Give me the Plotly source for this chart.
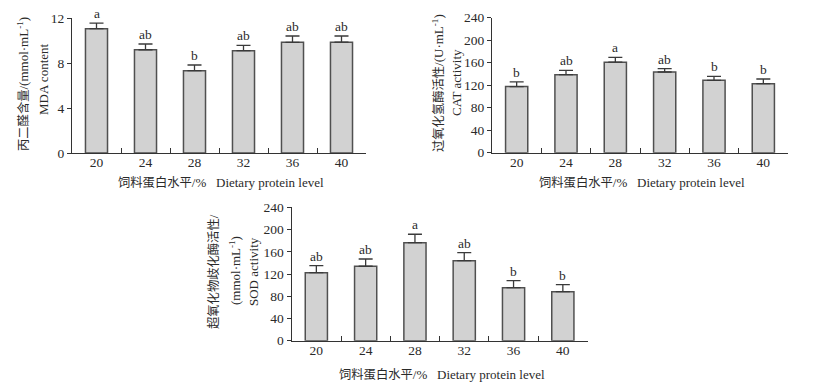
import plotly.graph_objects as go

levels = ["20", "24", "28", "32", "36", "40"]

mda_mean = [11.05, 9.18, 7.32, 9.10, 9.84, 9.85]
mda_err = [0.50, 0.51, 0.50, 0.47, 0.56, 0.55]
mda_letters = ["a", "ab", "b", "ab", "ab", "ab"]

cat_mean = [117.5, 138.7, 161.0, 143.5, 128.7, 122.7]
cat_err = [8.5, 7.8, 8.5, 6.0, 7.0, 8.3]
cat_letters = ["b", "ab", "a", "ab", "b", "b"]

sod_mean = [122.4, 133.9, 176.4, 144.0, 95.4, 88.2]
sod_err = [12.6, 13.1, 15.1, 14.4, 12.6, 12.6]
sod_letters = ["ab", "ab", "a", "ab", "b", "b"]

W, H = 817, 383
SERIF = "Liberation Serif, Times New Roman, Noto Sans CJK SC, serif"
TXT = "#2a2a2a"
AX = "#333333"
FS = 13.5
FT = 13


def cjk(s):
    return '<span style="font-family:Noto Sans CJK SC;font-size:12.3px">' + s + "</span>"


SUP = "<sup>-1</sup>"
panels = [
    dict(mean=mda_mean, err=mda_err, letters=mda_letters, rng=[0, 12], dtick=4,
         x0=72, x1=366, ytop=18, ybot=153,
         ytitles=[(cjk("丙二醛含量") + "/(mmol·mL" + SUP + ")", 23, 84), ("MDA content", 43, 79)],
         xtitle_y=182),
    dict(mean=cat_mean, err=cat_err, letters=cat_letters, rng=[0, 240], dtick=40,
         x0=492, x1=788, ytop=17.7, ybot=152.7,
         ytitles=[(cjk("过氧化氢酶活性") + "/(U·mL" + SUP + ")", 438, 83), ("CAT activity", 457, 83)],
         xtitle_y=182),
    dict(mean=sod_mean, err=sod_err, letters=sod_letters, rng=[0, 240], dtick=40,
         x0=291.7, x1=587.5, ytop=207.3, ybot=340.7,
         ytitles=[(cjk("超氧化物歧化酶活性") + "/", 213, 271), ("(mmol·mL" + SUP + ")", 235, 270),
                  ("SOD activity", 253, 272)],
         xtitle_y=374),
]

fig = go.Figure()
annotations = []
for i, p in enumerate(panels):
    n = "" if i == 0 else str(i + 1)
    xa, ya = "x" + n, "y" + n
    fig.add_trace(go.Bar(
        x=levels, y=p["mean"], xaxis=xa, yaxis=ya, width=0.45,
        marker=dict(color="#d2d2d2", line=dict(color="#505050", width=1.5)),
        error_y=dict(type="data", array=p["err"], arrayminus=[0] * 6, symmetric=False,
                     color="#3a3a3a", thickness=1.3, width=7),
        showlegend=False, hoverinfo="skip",
    ))
    for k, (m, e, lt) in enumerate(zip(p["mean"], p["err"], p["letters"])):
        annotations.append(dict(x=k, y=m + e, xref=xa, yref=ya, text=lt, showarrow=False,
                                yanchor="bottom", yshift=0,
                                font=dict(family=SERIF, size=FS, color=TXT)))
    dom_x = [p["x0"] / W, p["x1"] / W]
    dom_y = [1 - p["ybot"] / H, 1 - p["ytop"] / H]
    fig.update_layout(**{
        "xaxis" + n: dict(domain=dom_x, anchor=ya, type="category", tickson="boundaries",
                          range=[-0.5, 5.5], autorange=False, automargin=False,
                          ticks="inside", ticklen=5, tickwidth=1.2, tickcolor=AX,
                          ticklabelstandoff=-3,
                          showline=True, linecolor=AX, linewidth=1.3,
                          showgrid=False, zeroline=False, tickangle=0,
                          tickfont=dict(family=SERIF, size=FS, color=TXT)),
        "yaxis" + n: dict(domain=dom_y, anchor=xa, range=p["rng"], dtick=p["dtick"],
                          autorange=False, automargin=False,
                          ticks="outside", ticklen=4, tickwidth=1.2, tickcolor=AX,
                          showline=True, linecolor=AX, linewidth=1.3,
                          showgrid=False, zeroline=False,
                          tickfont=dict(family=SERIF, size=FS, color=TXT)),
    })
    for txt, xpx, ypx in p["ytitles"]:
        annotations.append(dict(x=xpx / W, y=1 - ypx / H, xref="paper", yref="paper",
                                text=txt, textangle=-90, showarrow=False,
                                xanchor="center", yanchor="middle",
                                font=dict(family=SERIF, size=FT, color=TXT)))
    annotations.append(dict(x=(p["x0"] + p["x1"]) / 2 / W + 2 / W, y=1 - p["xtitle_y"] / H,
                            xref="paper", yref="paper",
                            text=cjk("饲料蛋白水平") + "/%\u00a0\u00a0\u00a0Dietary protein level",
                            showarrow=False, xanchor="center", yanchor="middle",
                            font=dict(family=SERIF, size=FT, color=TXT)))

fig.update_layout(width=W, height=H, margin=dict(l=0, r=0, t=0, b=0),
                  paper_bgcolor="white", plot_bgcolor="white",
                  annotations=annotations)

fig.write_html("out.html", config={"displayModeBar": False},
               post_script="document.body.style.margin='0';document.body.style.overflow='hidden';")
